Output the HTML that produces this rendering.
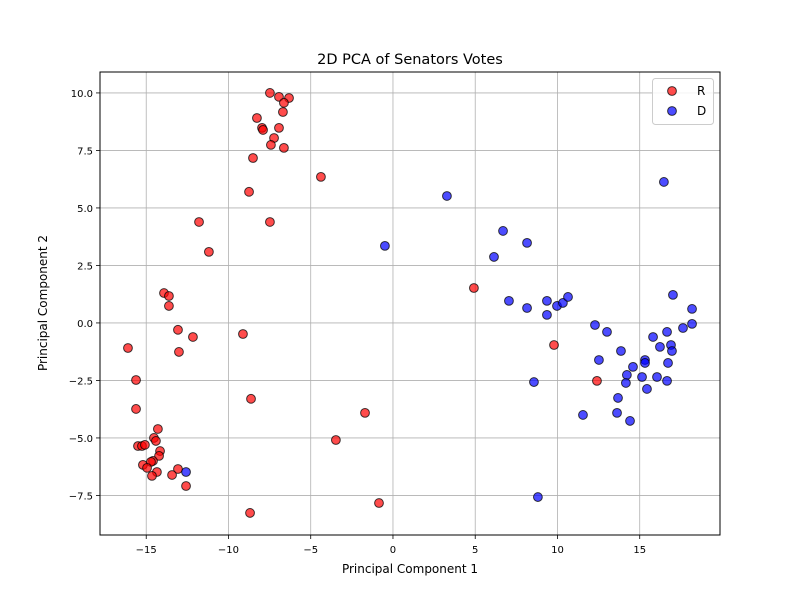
<!DOCTYPE html>
<html><head><meta charset="utf-8"><style>
html,body{margin:0;padding:0;background:#fff;}
svg text{font-family:"DejaVu Sans","Liberation Sans",sans-serif;}
</style></head><body>
<svg id="chart" width="800" height="600">
<rect width="800" height="600" fill="#fff"/>
<g id="grid"></g><g id="marks"></g><g id="axes"></g>
</svg>
<script>
const rX=[-7.48,-6.93,-6.32,-6.63,-6.69,-8.27,-7.96,-7.9,-6.93,-7.23,-7.42,-6.63,-8.51,-4.38,-8.75,-11.79,-7.48,-11.19,4.92,9.79,12.4,-13.92,-13.62,-13.62,-13.07,-12.16,-9.12,-16.11,-13.01,-15.62,-8.63,-15.62,-1.7,-3.47,-0.85,-8.69,-14.29,-14.53,-14.41,-15.5,-15.26,-15.08,-14.16,-14.22,-14.59,-14.71,-15.2,-14.95,-14.35,-14.65,-13.07,-13.43,-12.58];
const rY=[10.0,9.83,9.78,9.57,9.17,8.91,8.48,8.39,8.48,8.04,7.74,7.61,7.17,6.35,5.7,4.39,4.39,3.09,1.52,-0.96,-2.52,1.3,1.17,0.74,-0.3,-0.61,-0.48,-1.09,-1.26,-2.48,-3.3,-3.74,-3.91,-5.09,-7.83,-8.26,-4.61,-5.0,-5.13,-5.35,-5.35,-5.3,-5.57,-5.78,-6.0,-6.04,-6.17,-6.3,-6.48,-6.65,-6.35,-6.61,-7.09];
const dX=[7.05,8.15,9.36,9.36,9.97,10.33,10.64,17.02,18.18,18.18,17.63,16.66,15.81,12.28,13.01,16.23,16.9,16.96,13.86,12.52,15.32,15.32,16.72,14.59,14.22,15.14,16.05,16.66,14.16,8.57,15.44,13.68,11.55,13.62,14.41,3.28,-0.49,6.14,6.69,8.15,16.47,8.81,-12.58];
const dY=[0.96,0.65,0.96,0.35,0.74,0.87,1.13,1.22,0.61,-0.04,-0.22,-0.39,-0.61,-0.09,-0.39,-1.04,-0.96,-1.22,-1.22,-1.61,-1.61,-1.74,-1.74,-1.91,-2.26,-2.35,-2.35,-2.52,-2.61,-2.57,-2.87,-3.26,-4.0,-3.91,-4.26,5.52,3.35,2.87,4.0,3.48,6.13,-7.57,-6.48];
const xTicks=[-15,-10,-5,0,5,10,15];
const yTicks=[-7.5,-5.0,-2.5,0.0,2.5,5.0,7.5,10.0];
const L=100,R=720,T=72,B=535,X0=-17.81,X1=19.88,Y0=-9.22,Y1=10.91;
const sx=v=>L+(v-X0)/(X1-X0)*(R-L), sy=v=>B-(v-Y0)/(Y1-Y0)*(B-T);
const NS="http://www.w3.org/2000/svg";
function mk(tag,attrs,parent,txt){const e=document.createElementNS(NS,tag);for(const k in attrs)e.setAttribute(k,attrs[k]);if(txt!==undefined)e.textContent=txt;parent.appendChild(e);return e;}
const grid=document.getElementById('grid'),marks=document.getElementById('marks'),axes=document.getElementById('axes');
xTicks.forEach(t=>{const x=sx(t);
 const g=mk('line',{x1:x,x2:x,y1:T,y2:B,stroke:'#b0b0b0','stroke-width':0.8},grid);
 
 
 mk('line',{x1:x,x2:x,y1:B,y2:B+4,stroke:'#000','stroke-width':0.8},axes);
 const l=mk('text',{x:x,y:B+18,'font-size':10,'text-anchor':'middle'},axes,(t<0?'\u2212':'')+Math.abs(t));
 
 });
yTicks.forEach(t=>{const y=sy(t);
 const g=mk('line',{x1:L,x2:R,y1:y,y2:y,stroke:'#b0b0b0','stroke-width':0.8},grid);
 
 
 mk('line',{x1:L-4,x2:L,y1:y,y2:y,stroke:'#000','stroke-width':0.8},axes);
 const l=mk('text',{x:L-7,y:y+4,'font-size':10,'text-anchor':'end'},axes,(t<0?'\u2212':'')+Math.abs(t).toFixed(1));
 
 });
function pts(xs,ys,col,name){xs.forEach((v,i)=>{const c=mk('circle',{cx:sx(v),cy:sy(ys[i]),r:4.4,fill:col,'fill-opacity':0.7,stroke:'#000','stroke-opacity':0.75,'stroke-width':1},marks);
 
 });}
pts(rX,rY,'#ff0000','point-r');
pts(dX,dY,'#0000ff','point-d');
const fr=mk('rect',{x:L,y:T,width:R-L,height:B-T,fill:'none',stroke:'#000','stroke-width':1},axes);


</script>
<svg style="position:absolute;left:0;top:0" width="800" height="600">
<text x="410" y="64" font-size="14.5" text-anchor="middle">2D PCA of Senators Votes</text>
<text x="410" y="573" font-size="12" text-anchor="middle">Principal Component 1</text>
<text transform="translate(47,303) rotate(-90)" font-size="12" text-anchor="middle">Principal Component 2</text>
<g>
<rect x="652.5" y="78.5" width="61" height="46" rx="3" fill="#fff" fill-opacity="0.85" stroke="#ccc"/>
<g><circle cx="672" cy="91" r="4.4" fill="#ff0000" fill-opacity="0.7" stroke="#000" stroke-opacity="0.75"/><text x="697" y="95" font-size="12">R</text></g>
<g><circle cx="672" cy="111" r="4.4" fill="#0000ff" fill-opacity="0.7" stroke="#000" stroke-opacity="0.75"/><text x="697" y="115" font-size="12">D</text></g>
</g>
</svg>
</body></html>
